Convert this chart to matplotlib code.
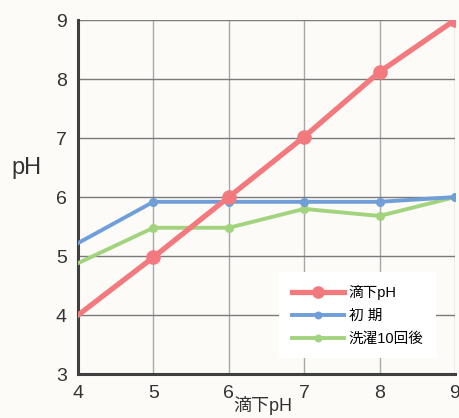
import numpy as np
import matplotlib.pyplot as plt

plt.rcParams['font.family'] = ['Liberation Sans', 'Noto Sans CJK JP']

# データ
x_ph = [4, 5, 6, 7, 8, 9]
drop_ph = [4.0, 4.98, 6.0, 7.02, 8.12, 9.0]
initial = [5.22, 5.92, 5.92, 5.92, 5.92, 6.0]
washed10 = [4.88, 5.48, 5.48, 5.8, 5.68, 6.0]
labels = ["滴下pH", "初 期", "洗濯10回後"]

bg = "#fcfbf7"
fig = plt.figure(figsize=(4.59, 4.18), dpi=100, facecolor=bg)
ax = fig.add_axes([0.170, 0.105, 0.821, 0.847], facecolor=bg)

ax.plot(x_ph, drop_ph, color="#f27a7e", lw=3.8, marker="o", ms=9.5,
        markevery=range(1, 6), label=labels[0], zorder=5)
ax.plot(x_ph, initial, color="#6f9ed8", lw=2.8, marker="o", ms=5.5,
        markevery=range(1, 6), label=labels[1], zorder=4)
ax.plot(x_ph, washed10, color="#a2d47f", lw=2.8, marker="o", ms=5.5,
        markevery=range(1, 6), label=labels[2], zorder=3)

ax.set_xlim(4, 9)
ax.set_ylim(3, 9)
ax.set_xticks(range(4, 10))
ax.set_yticks(range(3, 10))
ax.xaxis.grid(True, color="#a8a8a8", lw=1.0)
ax.yaxis.grid(True, color="#7a7a7a", lw=1.0)
ax.set_axisbelow(True)
for s in ["top", "right"]:
    ax.spines[s].set_visible(False)
for s in ["left", "bottom"]:
    ax.spines[s].set_color("#404040")
    ax.spines[s].set_linewidth(2.2)
ax.tick_params(length=0, labelsize=14, colors="#333333")
ax.tick_params(axis="x", pad=8)
ax.tick_params(axis="y", pad=8)

ax.set_xlabel("滴下pH", fontsize=13, color="#333333")
ax.xaxis.set_label_coords(0.49, -0.115, transform=ax.transAxes)
ax.xaxis.label.set_va("bottom")
ax.set_ylabel("pH", fontsize=17, color="#333333", rotation=0)
ax.yaxis.set_label_coords(-0.138, 0.55)

leg = ax.legend(loc="lower right", bbox_to_anchor=(0.95, 0.045), frameon=True,
                fontsize=10.5, handlelength=3.6, labelspacing=0.62, borderpad=0.85,
                handletextpad=0.3, fancybox=False, markerscale=0.85,
                borderaxespad=0)
leg.get_frame().set_facecolor("white")
leg.get_frame().set_edgecolor("none")
leg.get_frame().set_alpha(1)

fig.savefig("out.png", dpi=100, facecolor=bg)
